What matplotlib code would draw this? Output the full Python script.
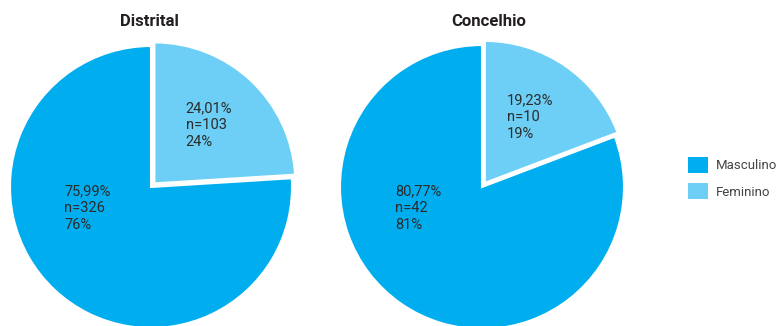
import matplotlib.pyplot as plt
from matplotlib.patches import Patch
import math

# Dados
categorias = ["Feminino", "Masculino"]
distrital_n = [103, 326]
distrital_pct = [24.01, 75.99]
concelhio_n = [10, 42]
concelhio_pct = [19.23, 80.77]

cores = {"Masculino": "#00AEEF", "Feminino": "#6DCFF6"}
cor_texto = "#2b2b2b"

plt.rcParams['font.family'] = ['Roboto', 'DejaVu Sans']

W, H = 779, 326
fig = plt.figure(figsize=(W / 100, H / 100), dpi=100)


def pizza(cx, cy, r, pct, n, titulo, tx):
    # eixo em pixels, com margem para a fatia destacada
    lim = 1.1
    s = 2 * r * lim
    ax = fig.add_axes([(cx - s / 2) / W, (H - cy - s / 2) / H, s / W, s / H])
    wedges, _ = ax.pie(pct, colors=[cores[c] for c in categorias],
                       startangle=90, counterclock=False,
                       explode=[0.035, 0],
                       wedgeprops=dict(edgecolor='white', linewidth=1.5))
    ax.set_xlim(-lim, lim)
    ax.set_ylim(-lim, lim)
    ax.set_aspect('equal')
    ax.axis('off')
    for w in wedges:
        w.set_clip_on(False)
    for i, w in enumerate(wedges):
        txt = f"{pct[i]:.2f}%".replace(".", ",") + f"\nn={n[i]}\n{round(pct[i])}%"
        if categorias[i] == "Feminino":
            ang = math.radians((w.theta1 + w.theta2) / 2)
            x, y = 0.6 * math.cos(ang), 0.6 * math.sin(ang)
        else:
            x, y = -0.45, -0.15
        ax.text(x, y, txt, ha='center', va='center', multialignment='left',
                fontsize=10.5, color=cor_texto, linespacing=1.25)
    fig.text(tx / W, 1 - 22 / H, titulo, ha='center', va='center',
             fontsize=12, fontweight='bold', color='#231f20')
    return wedges


pizza(151, 187, 141, distrital_pct, distrital_n, "Distrital", 149)
pizza(482, 187, 142, concelhio_pct, concelhio_n, "Concelhio", 489)

handles = [Patch(facecolor=cores[c]) for c in ["Masculino", "Feminino"]]
fig.legend(handles, ["Masculino", "Feminino"], loc='center left',
           bbox_to_anchor=(688 / W, 1 - 178 / H), frameon=False,
           fontsize=9.5, handlelength=1.55, handleheight=1.55,
           labelspacing=0.75, handletextpad=0.55, labelcolor='#444444',
           borderaxespad=0, borderpad=0)

fig.savefig("out.png", dpi=100)
